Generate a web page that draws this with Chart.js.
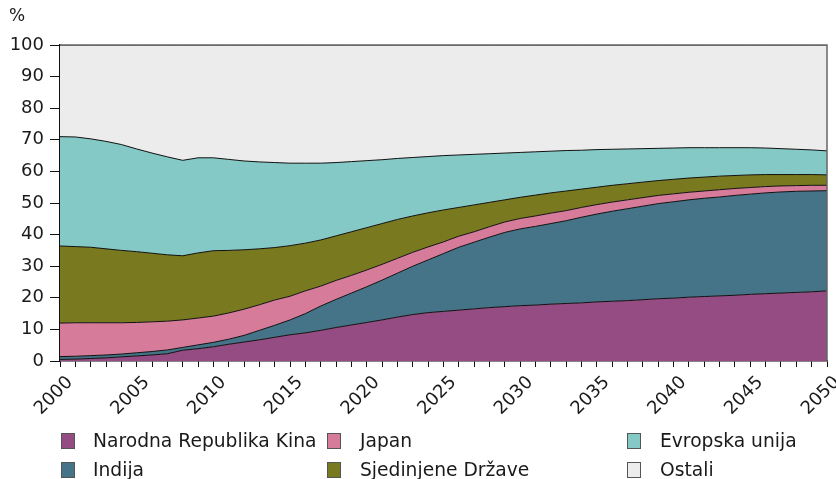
<!DOCTYPE html>
<html><head><meta charset="utf-8">
<script src="https://cdn.jsdelivr.net/npm/chart.js@4"></script>
<style>
html,body{margin:0;padding:0;background:#fff;}
#wrap{position:relative;width:836px;height:479px;font-family:"DejaVu Sans",Verdana,sans-serif;color:#1a1a1a;overflow:hidden;}
#wrap canvas{position:absolute;left:0;top:0;}
.unit{position:absolute;left:9px;top:5px;font-size:17px;}
.lg{position:absolute;font-size:18.7px;line-height:22px;white-space:nowrap;}
.lg .bx{position:absolute;left:0;top:3px;width:14px;height:16px;border:1px solid #555;box-sizing:border-box;}
.lg .tx{position:absolute;left:32px;top:0;}
</style></head>
<body>
<div id="wrap">
<canvas id="c" width="836" height="479"></canvas>
<div class="unit">%</div>
<div id="legend"></div>
</div>
<script>
const years = ['2000','2001','2002','2003','2004','2005','2006','2007','2008','2009',
  '2010','2011','2012','2013','2014','2015','2016','2017','2018','2019',
  '2020','2021','2022','2023','2024','2025','2026','2027','2028','2029',
  '2030','2031','2032','2033','2034','2035','2036','2037','2038','2039',
  '2040','2041','2042','2043','2044','2045','2046','2047','2048','2049','2050'];

const kina = [0.5,0.6,0.8,1.0,1.3,1.6,1.9,2.3,3.4,3.9,
  4.5,5.3,6.0,6.7,7.5,8.3,8.9,9.7,10.6,11.4,
  12.2,13.0,13.9,14.7,15.3,15.7,16.1,16.5,16.9,17.2,
  17.5,17.7,18.0,18.2,18.4,18.7,18.9,19.1,19.4,19.7,
  19.9,20.2,20.4,20.6,20.8,21.1,21.3,21.5,21.7,21.9,22.2];

const indija = [0.9,0.9,0.9,0.9,0.9,1.0,1.1,1.2,0.9,1.2,
  1.4,1.6,2.1,3.0,3.8,4.7,6.1,7.7,8.9,10.1,
  11.3,12.6,13.9,15.3,16.7,18.3,19.9,21.1,22.3,23.5,
  24.3,24.9,25.5,26.2,27.1,27.8,28.5,29.1,29.6,30.1,
  30.5,30.8,31.1,31.3,31.6,31.7,31.9,32.0,32.0,31.9,31.7];

const japan = [10.6,10.6,10.4,10.2,9.9,9.6,9.4,9.1,8.7,8.5,
  8.3,8.3,8.3,8.1,8.0,7.5,7.2,6.3,6.0,5.6,
  5.3,5.0,4.7,4.4,4.1,3.7,3.5,3.3,3.3,3.3,
  3.3,3.3,3.3,3.2,3.1,3.0,2.9,2.8,2.7,2.6,
  2.5,2.4,2.3,2.3,2.2,2.1,2.0,1.9,1.8,1.8,1.7];

const sad = [24.4,24.1,23.9,23.4,22.9,22.4,21.7,21.0,20.3,20.6,
  20.7,19.8,18.8,17.7,16.6,16.0,15.1,14.6,14.1,13.8,
  13.4,12.9,12.3,11.5,10.8,10.1,9.1,8.5,7.7,7.0,
  6.7,6.6,6.4,6.2,5.8,5.5,5.3,5.1,4.9,4.7,
  4.6,4.5,4.4,4.3,4.1,4.0,3.8,3.6,3.5,3.4,3.3];

const eu = [34.6,34.7,34.3,34.0,33.5,32.5,31.7,31.0,30.2,30.1,
  29.4,28.8,28.1,27.5,26.9,26.1,25.3,24.3,23.2,22.2,
  21.2,20.2,19.3,18.5,17.8,17.2,16.6,16.0,15.4,14.8,
  14.2,13.7,13.2,12.8,12.3,11.9,11.4,11.0,10.6,10.2,
  9.9,9.6,9.3,9.0,8.8,8.6,8.4,8.2,8.0,7.8,7.6];

const ostali = [29.0,29.1,29.7,30.5,31.5,32.9,34.2,35.4,36.5,35.7,
  35.7,36.2,36.7,37.0,37.2,37.4,37.4,37.4,37.2,36.9,
  36.6,36.3,35.9,35.6,35.3,35.0,34.8,34.6,34.4,34.2,
  34.0,33.8,33.6,33.4,33.3,33.1,33.0,32.9,32.8,32.7,
  32.6,32.5,32.5,32.5,32.5,32.5,32.6,32.8,33.0,33.2,33.5];

const yTicks = [0,10,20,30,40,50,60,70,80,90,100];

const seriesNames = ['Narodna Republika Kina','Indija','Japan','Sjedinjene Države','Evropska unija','Ostali'];
const seriesData = [kina, indija, japan, sad, eu, ostali];
const seriesColors = ['#954c83','#457387','#d67b99','#79791f','#84c9c6','#ebeceb'];

const FONT = '"DejaVu Sans", Verdana, sans-serif';

const datasets = seriesData.map((d, i) => ({
  label: seriesNames[i],
  data: d,
  backgroundColor: seriesColors[i],
  borderColor: '#111',
  borderWidth: 1,
  pointRadius: 0,
  tension: 0,
  fill: i === 0 ? 'origin' : '-1'
}));

const frame = {
  id: 'frame',
  afterDatasetsDraw(chart) {
    const a = chart.chartArea, ctx = chart.ctx;
    ctx.save();
    ctx.strokeStyle = '#666';
    ctx.lineWidth = 1.5;
    ctx.beginPath();
    ctx.moveTo(a.left, a.top);
    ctx.lineTo(a.right, a.top);
    ctx.lineTo(a.right, a.bottom);
    ctx.stroke();
    ctx.restore();
  }
};

new Chart(document.getElementById('c'), {
  type: 'line',
  data: { labels: years, datasets },
  plugins: [frame],
  options: {
    responsive: false,
    animation: false,
    layout: { padding: { top: 45, right: 9, left: 0, bottom: 0 } },
    plugins: { legend: { display: false }, tooltip: { enabled: false } },
    scales: {
      x: {
        offset: false,
        grid: { drawOnChartArea: false, drawTicks: true, tickLength: 6, color: '#111', lineWidth: 1 },
        border: { color: '#111', width: 1.5 },
        ticks: {
          autoSkip: false,
          maxRotation: 45, minRotation: 45,
          padding: 5,
          labelOffset: 10,
          color: '#1a1a1a',
          font: { family: FONT, size: 18 },
          callback: function (v, i) { const y = years[i]; return (Number(y) % 5 === 0) ? y : ''; }
        },
        afterFit(s) { s.height = 118; s.paddingRight = 0; s.paddingLeft = 0; }
      },
      y: {
        stacked: true,
        min: 0, max: 100,
        afterBuildTicks(s) { s.ticks = yTicks.map(v => ({ value: v })); },
        grid: { drawOnChartArea: false, drawTicks: true, tickLength: 10, color: '#111', lineWidth: 1 },
        border: { color: '#111', width: 1.5 },
        ticks: { color: '#1a1a1a', padding: 6, font: { family: FONT, size: 18 } },
        afterFit(s) { s.width = 60; }
      }
    }
  }
});

// legend (HTML)
const legendPos = [[61,430],[61,459],[327,430],[327,459],[627,430],[627,459]];
const textLeft = [32,32,33,33,33,33];
const lg = document.getElementById('legend');
seriesNames.forEach((n, i) => {
  const d = document.createElement('div');
  d.className = 'lg';
  d.style.left = legendPos[i][0] + 'px';
  d.style.top = legendPos[i][1] + 'px';
  d.innerHTML = '<span class="bx" style="background:' + seriesColors[i] + '"></span><span class="tx" style="left:' + textLeft[i] + 'px">' + n + '</span>';
  lg.appendChild(d);
});
</script>
</body></html>
